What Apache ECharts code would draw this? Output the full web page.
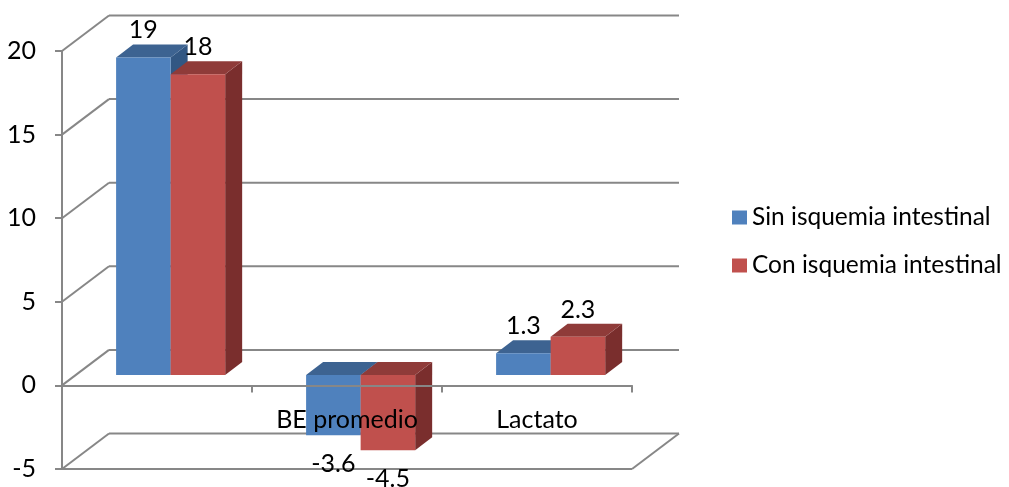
<!DOCTYPE html>
<html><head><meta charset="utf-8">
<script src="https://cdn.jsdelivr.net/npm/echarts@6/dist/echarts.min.js"></script>
<style>html,body{margin:0;padding:0;background:#fff}#chart{width:1009px;height:487px}</style>
</head><body><div id="chart"></div>
<script>
// Data
const categories = ['', 'BE promedio', 'Lactato'];
const sinIsquemia = [19, -3.6, 1.3];
const conIsquemia = [18, -4.5, 2.3];
const seriesNames = ['Sin isquemia intestinal', 'Con isquemia intestinal'];
const valueTicks = [-5, 0, 5, 10, 15, 20];

// Styling
const FONT = 'Lato';
const FS = 25;
const GRID_COLOR = '#878787';
const WALL_DX = 47, WALL_DY = -35.5;   // offset of back wall from the front plane
const BAR_FRONT = 0.29;                // depth of bar front faces (fraction of wall depth)
const BAR_DX = 17, BAR_DY = -13;       // bar depth
const BAR_FRAC = 0.287;                // bar width as fraction of category band
const faces = [
  { front: '#4F81BD', top: '#3D6391', side: '#325783' },
  { front: '#C0504D', top: '#8F3B39', side: '#7A2E2D' }
];

function barRenderer(s) {
  return function (params, api) {
    const idx = api.value(0), v = api.value(1);
    const band = api.size([1, 0])[0];
    const w = band * BAR_FRAC;
    const base = api.coord([idx, 0]);
    const ox = WALL_DX * BAR_FRONT, oy = WALL_DY * BAR_FRONT;
    const x0 = base[0] + (s === 0 ? -w : 0) + ox;
    const x1 = x0 + w;
    const yv = api.coord([idx, v])[1] + oy;
    const y0 = base[1] + oy;
    const yT = Math.min(yv, y0), yB = Math.max(yv, y0);
    const f = faces[s];
    const labelY = v >= 0 ? yT + BAR_DY - 14 : yB + 29;
    return {
      type: 'group',
      children: [
        { type: 'polygon', shape: { points: [[x1, yT], [x1 + BAR_DX, yT + BAR_DY], [x1 + BAR_DX, yB + BAR_DY], [x1, yB]] }, style: { fill: f.side } },
        { type: 'polygon', shape: { points: [[x0, yT], [x1, yT], [x1 + BAR_DX, yT + BAR_DY], [x0 + BAR_DX, yT + BAR_DY]] }, style: { fill: f.top } },
        { type: 'rect', shape: { x: x0, y: yT, width: w, height: yB - yT }, style: { fill: f.front } },
        { type: 'text', z2: 20, style: { text: String(v), x: (x0 + x1) / 2, y: labelY, align: 'center', verticalAlign: 'middle', fontFamily: FONT, fontSize: FS, fill: '#000' } }
      ]
    };
  };
}

function wallRenderer(params, api) {
  const cs = params.coordSys;
  const v = api.value(1);
  const y = api.coord([0, v])[1];
  const xl = cs.x, xr = cs.x + cs.width;
  const ls = { stroke: GRID_COLOR, lineWidth: 2 };
  const children = [
    { type: 'line', shape: { x1: xl, y1: y, x2: xl + WALL_DX, y2: y + WALL_DY }, style: ls },
    { type: 'line', shape: { x1: xl + WALL_DX, y1: y + WALL_DY, x2: xr + WALL_DX, y2: y + WALL_DY }, style: ls }
  ];
  if (v === valueTicks[0]) {
    children.push({ type: 'line', shape: { x1: xl, y1: y, x2: xr, y2: y }, style: ls });
    children.push({ type: 'line', shape: { x1: xr, y1: y, x2: xr + WALL_DX, y2: y + WALL_DY }, style: ls });
  }
  return { type: 'group', children };
}

const chart = echarts.init(document.getElementById('chart'), null, { renderer: 'canvas' });
chart.setOption({
  animation: false,
  grid: { left: 62, top: 51, width: 570, height: 418, containLabel: false, outerBoundsMode: 'none' },
  xAxis: [{
    // category axis line drawn through value 0
    type: 'category', data: categories, z: 10,
    axisLine: { onZero: true, lineStyle: { color: GRID_COLOR, width: 2 } },
    axisTick: { show: true, length: 7, interval: 0, lineStyle: { color: GRID_COLOR, width: 2 } },
    axisLabel: { show: false },
    splitLine: { show: false }
  }, {
    // category names, set a little below the zero line
    type: 'category', data: categories, position: 'bottom', offset: -62, z: 10,
    axisLine: { show: false, onZero: false },
    axisTick: { show: false },
    axisLabel: { interval: 0, margin: 0, fontFamily: FONT, fontSize: FS, color: '#000' },
    splitLine: { show: false }
  }],
  yAxis: {
    type: 'value', min: valueTicks[0], max: valueTicks[valueTicks.length - 1], interval: 5,
    axisLine: { show: true, lineStyle: { color: GRID_COLOR, width: 2 } },
    axisTick: { show: true, length: 7, lineStyle: { color: GRID_COLOR, width: 2 } },
    axisLabel: { margin: 26, fontFamily: FONT, fontSize: FS, color: '#000' },
    splitLine: { show: false }
  },
  legend: {
    orient: 'vertical', left: 732, top: 205, padding: 0, icon: 'rect',
    itemWidth: 15, itemHeight: 14, itemGap: 23,
    data: seriesNames,
    textStyle: { fontFamily: FONT, fontSize: 24.5, color: '#000', lineHeight: 24 }
  },
  series: [
    { type: 'custom', name: 'wall', silent: true, z: 1, renderItem: wallRenderer, data: valueTicks.map(v => [0, v]) },
    { type: 'custom', name: seriesNames[0], z: 2, itemStyle: { color: faces[0].front }, renderItem: barRenderer(0), data: sinIsquemia.map((v, i) => [i, v]) },
    { type: 'custom', name: seriesNames[1], z: 3, itemStyle: { color: faces[1].front }, renderItem: barRenderer(1), data: conIsquemia.map((v, i) => [i, v]) }
  ]
});
</script></body></html>
